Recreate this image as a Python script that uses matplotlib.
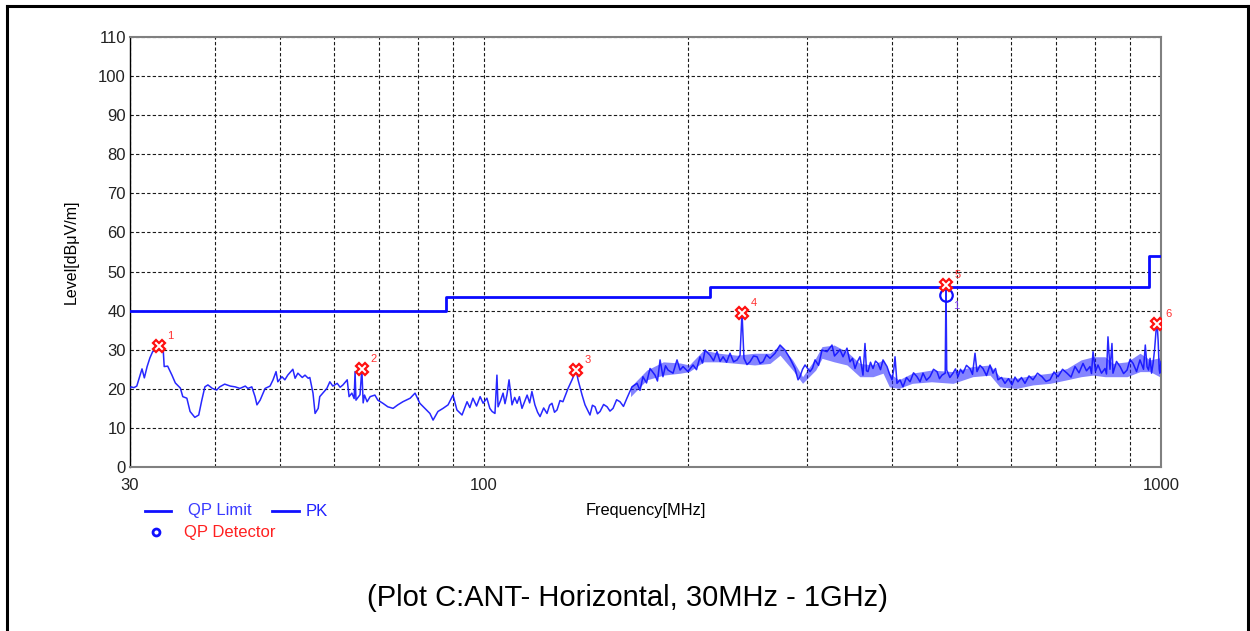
import matplotlib.pyplot as plt
from matplotlib.lines import Line2D

plt.rcParams['font.family'] = ['Liberation Sans', 'DejaVu Sans']

# QP limit (step line)
lim_freq = [30, 88, 88, 216, 216, 960, 960, 1000]
lim_level = [40, 40, 43.5, 43.5, 46, 46, 54, 54]

# PK trace as (MHz, dBuV/m), split in three bands
pk_low = [
    (30.0, 20.2), (30.1, 20.5), (30.4, 20.3), (30.7, 20.7), (31.0, 23.1), (31.25, 25.1), (31.5, 22.8),
    (31.8, 25.7), (32.1, 27.9), (32.4, 29.5), (32.8, 30.0), (33.1, 31.0), (33.6, 29.5), (33.7, 25.7),
    (34.1, 25.8), (34.6, 23.5), (35.0, 21.5), (35.6, 20.2), (35.9, 18.0), (36.4, 17.6), (36.8, 14.2),
    (37.4, 12.7), (37.9, 13.3), (38.3, 17.1), (38.7, 20.5), (39.1, 21.0), (39.7, 20.1), (40.3, 19.7),
    (40.7, 20.5), (41.4, 21.2), (42.2, 20.7), (42.9, 20.5), (43.6, 20.1), (44.4, 20.7), (44.8, 20.1),
    (45.4, 20.5), (45.9, 18.0), (46.2, 15.9), (46.7, 17.1), (47.5, 20.1), (48.3, 20.7), (48.8, 22.3),
    (49.3, 24.4), (49.6, 21.8), (50.3, 23.1), (50.8, 22.3), (51.3, 23.5), (52.2, 25.0), (52.6, 22.7),
    (53.1, 24.0), (53.9, 22.9), (54.4, 23.5), (55.0, 22.7), (55.3, 22.9), (55.9, 18.9), (56.3, 13.7),
    (56.9, 15.0), (57.2, 18.0), (57.8, 18.9), (58.6, 20.1), (59.2, 21.8), (59.8, 20.7), (60.7, 21.4),
    (61.3, 20.4), (61.9, 21.0), (62.8, 22.3), (63.2, 18.0), (63.8, 18.9), (64.3, 17.5), (64.5, 24.4),
    (64.7, 17.1), (65.6, 18.5), (66.0, 25.1), (66.3, 16.4), (66.6, 18.4), (67.2, 16.7), (67.9, 18.0),
    (69.0, 18.4), (69.7, 17.1), (70.9, 16.3), (72.1, 15.4), (73.4, 15.0), (74.6, 15.9), (75.9, 16.7),
    (77.8, 17.6), (79.1, 18.9), (80.4, 16.3), (81.8, 15.0), (83.2, 13.7), (84.1, 12.0), (85.5, 14.2),
    (87.0, 15.0), (88.5, 15.9),
]
pk_mid = [
    (90.0, 18.4), (91.2, 14.6), (92.8, 13.3), (94.4, 16.7), (95.3, 15.2), (96.3, 17.6), (97.5, 15.6),
    (98.7, 18.0), (99.7, 16.3), (101.0, 17.6), (102.0, 15.0), (102.8, 14.2), (103.8, 13.7), (104.5, 23.5),
    (104.9, 15.4), (105.8, 17.0), (106.7, 18.9), (107.4, 16.2), (108.1, 18.4), (108.9, 22.3), (110.0, 15.9),
    (111.0, 17.8), (111.9, 16.3), (112.8, 18.0), (113.8, 15.0), (115.8, 18.4), (116.8, 16.4), (117.7, 19.3),
    (118.9, 15.9), (120.0, 14.0), (121.0, 12.9), (122.5, 15.1), (123.9, 13.7), (125.0, 15.8), (126.0, 16.3),
    (127.1, 14.0), (128.2, 14.6), (129.5, 17.0), (130.8, 16.7), (133.1, 20.1), (134.9, 22.3), (136.8, 24.8),
    (137.7, 22.3), (139.6, 18.4), (141.0, 15.9), (143.4, 13.3), (144.6, 15.8), (145.9, 15.4), (147.1, 13.6),
    (148.4, 14.2), (150.2, 16.0), (152.0, 15.4), (153.5, 14.3), (155.1, 15.0), (157.0, 17.2), (158.8, 16.7),
    (160.7, 15.5), (162.6, 17.6), (165.4, 20.5), (168.3, 21.4), (170.0, 19.6), (171.7, 23.1), (173.8, 21.5),
    (175.9, 25.2), (178.9, 23.5), (180.4, 22.0), (182.0, 27.4), (183.8, 23.1), (185.4, 25.9), (187.0, 24.8),
    (190.2, 24.0), (192.8, 27.4), (194.8, 24.8), (196.8, 25.7), (200.1, 24.4), (203.6, 26.1), (206.0, 24.9),
    (208.5, 28.2), (210.3, 26.6), (212.1, 29.9), (215.7, 28.6), (218.3, 27.2), (220.9, 29.5), (223.2, 27.0),
    (225.5, 28.2), (228.2, 26.8), (230.9, 29.1), (233.7, 26.9), (236.5, 27.4), (238.9, 28.6), (240.5, 39.5),
    (242.1, 27.8), (244.6, 26.2), (247.1, 26.9), (250.1, 28.4), (253.1, 28.2), (255.7, 26.5), (258.3, 26.9),
    (261.4, 28.7), (264.5, 27.8), (269.1, 29.1), (273.7, 31.2), (278.4, 29.9), (283.1, 27.8), (288.0, 25.2),
    (291.0, 22.3), (292.9, 23.1), (295.5, 25.0), (298.0, 26.1),
]
pk_high = [
    (303.1, 24.4), (305.7, 25.3), (308.3, 27.4), (312.0, 26.0), (315.7, 29.9), (321.1, 29.5), (326.6, 31.2),
    (329.4, 28.4), (332.2, 29.1), (335.6, 30.0), (339.1, 28.2), (343.7, 30.4), (347.2, 26.9), (350.2, 27.8),
    (353.2, 25.2), (356.2, 27.0), (359.2, 28.2), (362.9, 23.5), (365.4, 31.6), (367.3, 24.6), (369.2, 24.4),
    (372.3, 26.8), (375.5, 25.2), (378.7, 27.1), (381.9, 26.5), (385.2, 24.9), (388.5, 27.4), (393.8, 25.7),
    (397.2, 23.8), (400.6, 22.3), (403.0, 25.0), (404.7, 28.2), (407.4, 21.4), (411.6, 22.3), (415.8, 20.5),
    (420.8, 22.9), (425.9, 21.8), (431.0, 24.1), (436.1, 23.1), (440.6, 21.8), (445.1, 24.0), (450.4, 22.2),
    (455.8, 23.1), (461.3, 25.0), (466.8, 24.4), (470.8, 22.6), (474.8, 23.5), (480.0, 24.0), (481.3, 46.3),
    (482.5, 24.8), (487.7, 22.9), (492.9, 24.0), (497.1, 25.1), (501.3, 23.1), (505.6, 25.0), (509.9, 24.0),
    (516.0, 26.0), (522.2, 25.2), (526.7, 23.7), (531.2, 29.1), (534.8, 24.4), (540.3, 26.0), (545.8, 25.2),
    (552.4, 23.4), (559.0, 26.1), (564.7, 24.0), (569.5, 25.2), (574.4, 22.3), (581.3, 22.9), (588.2, 21.4),
    (595.3, 22.6), (602.4, 21.0), (608.6, 23.0), (614.8, 21.8), (622.2, 22.9), (629.6, 21.4), (638.3, 23.3),
    (647.0, 22.3), (657.0, 24.0), (667.1, 23.1), (676.3, 21.9), (685.5, 22.3), (695.0, 24.3), (704.5, 23.1),
    (715.5, 25.0), (726.4, 24.0), (736.4, 23.0), (746.4, 25.7), (756.7, 24.1), (767.0, 26.5), (776.2, 24.6),
    (785.5, 25.7), (789.5, 23.9), (793.6, 29.5), (800.3, 24.5), (807.1, 26.1), (816.8, 24.0), (826.6, 25.2),
    (830.8, 23.8), (835.0, 33.3), (840.7, 25.0), (846.4, 31.6), (849.3, 24.0), (859.6, 27.0), (870.0, 25.7),
    (880.5, 23.9), (891.0, 24.8), (900.2, 27.5), (909.5, 26.5), (920.2, 24.4), (931.0, 27.4), (942.3, 25.0),
    (948.0, 31.2), (953.7, 25.6), (958.6, 24.8), (963.5, 27.8), (968.4, 24.0), (973.4, 26.5), (978.4, 30.0),
    (983.4, 35.0), (987.0, 36.6), (990.2, 32.5), (994.0, 25.0), (996.0, 24.0), (1000.0, 27.0),
]

# spread of the dense PK noise band above ~165 MHz (MHz, low, high)
band = [
    (164.6, 18.0, 20.5), (174.0, 22.3, 24.8), (184.0, 23.5, 26.9), (195.0, 24.0, 26.6), (201.0, 24.4, 26.1),
    (211.0, 26.9, 29.9), (222.5, 26.9, 29.1), (236.5, 26.5, 28.6), (251.0, 26.1, 29.1), (264.5, 26.5, 29.1),
    (273.7, 28.6, 31.2), (285.7, 24.8, 27.4), (295.5, 21.4, 23.1), (309.0, 24.8, 27.9), (315.7, 27.8, 30.8),
    (329.0, 26.9, 31.2), (343.7, 26.1, 29.5), (359.0, 23.1, 26.5), (375.5, 23.1, 26.1), (388.5, 24.0, 27.4),
    (397.0, 20.5, 24.0), (410.0, 20.1, 22.3), (429.0, 21.4, 24.0), (458.0, 21.8, 24.8), (493.0, 21.4, 24.4),
    (527.0, 23.1, 25.7), (559.0, 23.5, 26.1), (578.0, 20.5, 23.1), (612.0, 20.1, 22.7), (647.0, 21.0, 23.5),
    (685.5, 21.4, 24.0), (726.0, 22.3, 25.2), (762.0, 23.1, 27.4), (794.0, 23.5, 28.2), (826.6, 23.1, 28.2),
    (849.0, 23.1, 26.5), (891.0, 23.1, 26.9), (931.0, 24.4, 29.1), (963.5, 24.4, 27.4), (998.0, 23.0, 28.0),
]

# marker table (red crosses) and QP detector reading
mk_freq = [33.1, 66.0, 136.8, 240.5, 481.3, 987.0]
mk_level = [31.0, 25.1, 24.8, 39.5, 46.6, 36.6]
mk_label = ['1', '2', '3', '4', '5', '6']
qp_freq = [481.3]
qp_level = [44.0]
qp_label = ['1']

pk = pk_low + pk_mid + pk_high
pk_freq = [p[0] for p in pk]
pk_level = [p[1] for p in pk]

W, H = 1250, 631
fig = plt.figure(figsize=(W / 100, H / 100), dpi=100)
ax = fig.add_axes([130 / W, 1 - 467 / H, (1161 - 130) / W, (467 - 37) / H])

ax.fill_between([b[0] for b in band], [b[1] for b in band], [b[2] for b in band],
                color='#2020ff', alpha=0.55, linewidth=0, zorder=2)
ax.plot(pk_freq, pk_level, color='#1010ff', linewidth=1.1, alpha=0.9, zorder=3)
ax.plot(lim_freq, lim_level, color='#0a0aff', linewidth=2.0, zorder=4)
ax.plot(mk_freq, mk_level, linestyle='none', marker='X', markersize=9,
        markerfacecolor='white', markeredgecolor='#ff1010', markeredgewidth=1.6, zorder=6)
ax.plot(qp_freq, qp_level, linestyle='none', marker='o', markersize=9,
        markerfacecolor='none', markeredgecolor='#1010ff', markeredgewidth=1.6, zorder=5)

for f, l, t in zip(mk_freq, mk_level, mk_label):
    ax.annotate(t, (f, l), xytext=(6, 5), textcoords='offset points',
                color='#ff3030', fontsize=8)
for f, l, t in zip(qp_freq, qp_level, qp_label):
    ax.annotate(t, (f, l), xytext=(5, -10), textcoords='offset points',
                color='#7030e0', fontsize=8)

ax.set_xscale('log')
ax.set_xlim(30, 1000)
ax.set_ylim(0, 110)
ax.set_xticks([30, 100, 1000])
ax.set_xticklabels(['30', '100', '1000'])
ax.set_xticks([40, 50, 60, 70, 80, 90, 200, 300, 400, 500, 600, 700, 800, 900], minor=True)
ax.xaxis.set_minor_formatter(plt.NullFormatter())
ax.set_yticks(range(0, 111, 10))
ax.tick_params(axis='both', which='both', length=0, labelsize=12, colors='#222222')
ax.tick_params(axis='x', pad=8)
ax.tick_params(axis='y', pad=3)
ax.grid(which='both', color='#1a1a1a', linestyle=(0, (3, 2)), linewidth=0.8)

for side in ['top', 'right', 'bottom']:
    ax.spines[side].set_color('#808080')
    ax.spines[side].set_linewidth(1.5)
ax.spines['left'].set_color('black')
ax.spines['left'].set_linewidth(1.0)

# axis titles
fig.text(71 / W, 1 - 252 / H, 'Level[dBμV/m]', rotation=90, ha='center', va='center', fontsize=11.5)
fig.text(646 / W, 1 - 511 / H, 'Frequency[MHz]', ha='center', va='center', fontsize=11.8)

# legend drawn by hand below the axes
fig.add_artist(Line2D([145 / W, 171 / W], [1 - 511 / H] * 2, color='#1010ff', linewidth=2))
fig.text(188 / W, 1 - 511 / H, 'QP Limit', color='#3a3aff', ha='left', va='center', fontsize=12)
fig.add_artist(Line2D([272 / W, 299 / W], [1 - 511 / H] * 2, color='#1010ff', linewidth=2))
fig.text(306 / W, 1 - 511 / H, 'PK', color='#2020ff', ha='left', va='center', fontsize=12)
fig.add_artist(Line2D([156 / W], [1 - 532 / H], marker='o', markersize=5, markerfacecolor='none',
                      markeredgecolor='#1010ff', markeredgewidth=2))
fig.text(184 / W, 1 - 532 / H, 'QP Detector', color='#ff2020', ha='left', va='center', fontsize=12)

# caption
fig.text(627 / W, 1 - 598 / H, '(Plot C:ANT- Horizontal, 30MHz - 1GHz)',
         ha='center', va='center', fontsize=21)

# page frame (open at the bottom)
fig.add_artist(Line2D([6.5 / W, 6.5 / W], [0, 1 - 5.5 / H], color='black', linewidth=2.2))
fig.add_artist(Line2D([6.5 / W, 1247.5 / W], [1 - 5.5 / H] * 2, color='black', linewidth=2.2))
fig.add_artist(Line2D([1247.5 / W, 1247.5 / W], [0, 1 - 5.5 / H], color='black', linewidth=2.2))

fig.savefig('out.png', dpi=100)
